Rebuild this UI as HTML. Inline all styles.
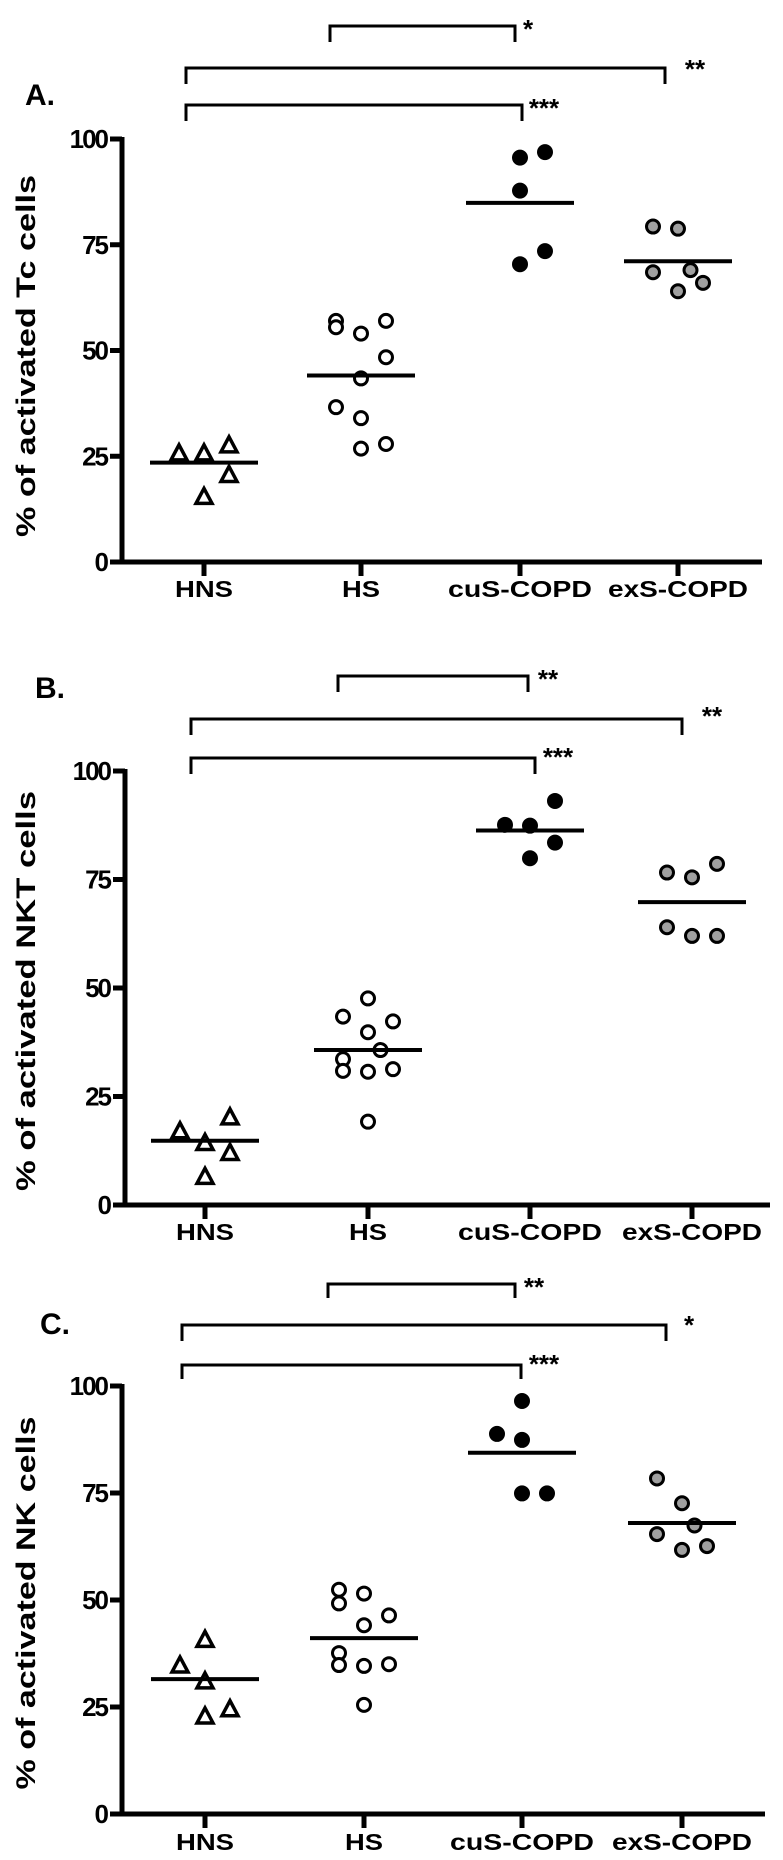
<!DOCTYPE html>
<html><head><meta charset="utf-8"><style>
html,body{margin:0;padding:0;background:#fff}
svg{display:block}
text{font-family:"Liberation Sans",sans-serif;font-weight:bold;fill:#000}
</style></head><body>
<svg id="fig" width="783" height="1860" viewBox="0 0 783 1860" xmlns="http://www.w3.org/2000/svg"></svg>
<script>
const categories = ["HNS","HS","cuS-COPD","exS-COPD"];
const yTicks = [0,25,50,75,100];
// Panel A (Tc)
const aHNS = [25.8,25.8,27.7,20.7,15.5];
const aHS = [57,55.5,54,57,48.4,43.4,36.6,34,26.8,27.9];
const aCuS = [95.6,96.9,87.8,73.5,70.4];
const aExS = [79.3,78.8,68.5,69,66,64];
const aMeans = [23.5,44.1,84.9,71.1];
// Panel B (NKT)
const bHNS = [17.1,14.4,20.3,12.1,6.6];
const bHS = [47.6,43.4,42.3,39.8,35.7,33.6,30.9,30.7,31.3,19.2];
const bCuS = [93.1,87.6,87.4,83.5,79.9];
const bExS = [76.6,75.5,78.6,64,62,62];
const bMeans = [14.8,35.7,86.3,69.8];
// Panel C (NK)
const cHNS = [34.8,40.8,31.1,22.9,24.6];
const cHS = [52.4,49.2,51.5,46.4,44.1,37.6,34.8,34.6,35,25.5];
const cCuS = [96.5,88.8,87.4,74.9,74.9];
const cExS = [78.4,72.6,65.4,67.4,61.7,62.6];
const cMeans = [31.5,41.1,84.4,68];
// jitter slots (layout only)
const jA = [[-1,0,1,1,0],[-1,-1,0,1,1,0,-1,0,0,1],[0,1,0,1,0],[-1,0,-1,0.5,1,0]];
const jB = [[-1,0,1,1,0],[0,-1,1,0,0.5,-1,-1,0,1,0],[1,-1,0,1,0],[-1,0,1,-1,0,1]];
const jC = [[-1,0,0,0,1],[-1,-1,0,1,0,-1,-1,0,1,0],[0,-1,0,0,1],[-1,0,-1,0.5,0,1]];
const labelWidths = [58,38,144,140];

const svg = document.getElementById('fig');
const NS = "http://www.w3.org/2000/svg";
function mk(tag, attrs){const e=document.createElementNS(NS,tag);for(const k in attrs)e.setAttribute(k,attrs[k]);svg.appendChild(e);return e;}

const panels = [
 {id:'a',letter:'A.',title:'% of activated Tc cells',groups:[aHNS,aHS,aCuS,aExS],means:aMeans,jit:jA,
  ax:122,ay0:562,ay100:139,xEnd:762,ticks:[204,361,520,678],labY:597,lx:40,ly:105,
  titleC:356,titleL:362,
  br:[{x1:330,x2:515,y:26,d:16,s:'*',sx:528,sy:28},{x1:186,x2:665,y:68,d:16,s:'**',sx:695,sy:68},{x1:186,x2:522,y:105,d:16,s:'***',sx:544,sy:107}]},
 {id:'b',letter:'B.',title:'% of activated NKT cells',groups:[bHNS,bHS,bCuS,bExS],means:bMeans,jit:jB,
  ax:125,ay0:1205,ay100:771,xEnd:770,ticks:[205,368,530,692],labY:1240,lx:50,ly:698,
  titleC:991,titleL:400,
  br:[{x1:338,x2:528,y:676,d:16,s:'**',sx:548,sy:678},{x1:191,x2:682,y:719,d:16,s:'**',sx:712,sy:715},{x1:191,x2:535,y:758,d:16,s:'***',sx:558,sy:756}]},
 {id:'c',letter:'C.',title:'% of activated NK cells',groups:[cHNS,cHS,cCuS,cExS],means:cMeans,jit:jC,
  ax:122,ay0:1814,ay100:1386,xEnd:765,ticks:[205,364,522,682],labY:1850,lx:55,ly:1334,
  titleC:1603,titleL:373,
  br:[{x1:328,x2:515,y:1284,d:14,s:'**',sx:534,sy:1286},{x1:182,x2:666,y:1325,d:16,s:'*',sx:689,sy:1324},{x1:182,x2:521,y:1365,d:14,s:'***',sx:544,sy:1363}]}
];

panels.forEach(p=>{
  const y = v => p.ay0 + (p.ay100 - p.ay0) * v / 100;
  const x = i => p.ticks[i];
  const ya = mk('line',{x1:p.ax,y1:p.ay100-2,x2:p.ax,y2:p.ay0+2,stroke:'#000','stroke-width':5});
  
  
  const xa = mk('line',{x1:p.ax-2,y1:p.ay0,x2:p.xEnd,y2:p.ay0,stroke:'#000','stroke-width':5});
  
  
  yTicks.forEach(t=>{
    const tl = mk('line',{x1:p.ax-12,y1:y(t),x2:p.ax,y2:y(t),stroke:'#000','stroke-width':5});
    
    
    const tt = mk('text',{x:p.ax-15,y:y(t)+9,'text-anchor':'end','font-size':26,'letter-spacing':-2});
    tt.textContent = t;
    
    
  });
  categories.forEach((c,i)=>{
    const tl = mk('line',{x1:x(i),y1:p.ay0,x2:x(i),y2:p.ay0+14,stroke:'#000','stroke-width':5});
    
    
    const tt = mk('text',{x:x(i),y:p.labY,'text-anchor':'middle','font-size':23,textLength:labelWidths[i],lengthAdjust:'spacingAndGlyphs'});
    tt.textContent = c;
    
    
  });
  const title = mk('text',{x:0,y:0,'text-anchor':'middle','font-size':27,textLength:p.titleL,lengthAdjust:'spacingAndGlyphs',transform:`translate(35,${p.titleC}) rotate(-90)`});
  title.textContent = p.title;
  
  
  const lt = mk('text',{x:p.lx,y:p.ly,'text-anchor':'middle','font-size':30});
  lt.textContent = p.letter;
  
  
  p.br.forEach(b=>{
    const bp = mk('path',{d:`M${b.x1},${b.y+b.d} V${b.y} H${b.x2} V${b.y+b.d}`,fill:'none',stroke:'#000','stroke-width':3});
    
    
    const st = mk('text',{x:b.sx,y:b.sy+10,'text-anchor':'middle','font-size':26});
    st.textContent = b.s;
    
    
  });
  p.groups.forEach((g,gi)=>{
    g.forEach((v,k)=>{
      const cx = x(gi) + 25*p.jit[gi][k];
      const cy = y(v);
      let m;
      if(gi===0){
        m = mk('path',{d:`M${cx},${cy-8} L${cx+8},${cy+7} L${cx-8},${cy+7} Z`,fill:'#fff',stroke:'#000','stroke-width':3.5});
      } else {
        const fill = gi===1?'#fff':(gi===2?'#000':'#a0a0a0');
        m = mk('circle',{cx:cx,cy:cy,r:6.5,fill:fill,stroke:'#000','stroke-width':3});
      }
      
      
    });
    const ml = mk('line',{x1:x(gi)-54,x2:x(gi)+54,y1:y(p.means[gi]),y2:y(p.means[gi]),stroke:'#000','stroke-width':4});
    
    
  });
});
</script>
</body></html>
